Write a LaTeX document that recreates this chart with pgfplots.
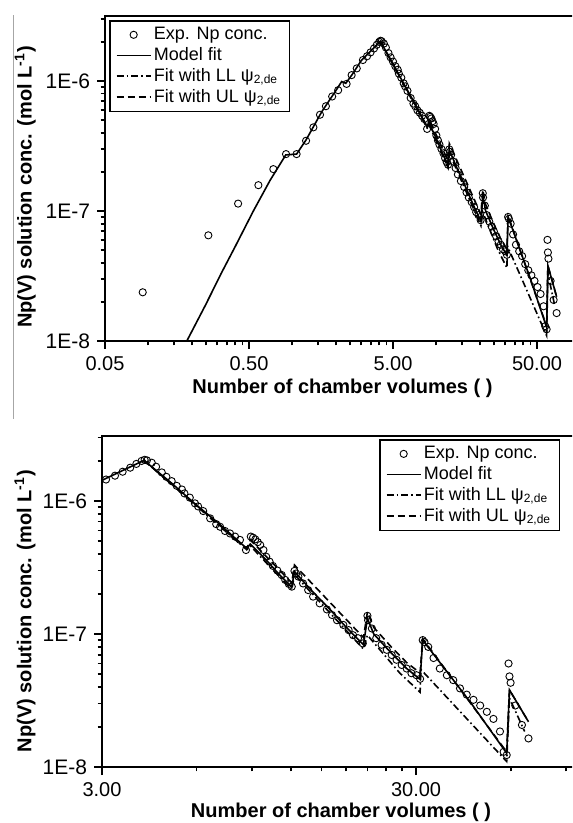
\documentclass[border=0pt]{standalone}
\usepackage{fontspec}
\setmainfont{Liberation Sans}
\usepackage{pgfplots}
\usepackage{pgfplotstable}
\pgfplotsset{compat=1.18}

% experimental Np(V) concentrations
\pgfplotstableread{
x y
0.0914 2.37e-8
0.261 6.5e-8
0.42 1.14e-7
0.581 1.58e-7
0.738 2.1e-7
0.904 2.74e-7
1.07 2.74e-7
1.245 3.47e-7
1.40 4.4e-7
1.556 5.5e-7
1.71 6.4e-7
1.89 7.6e-7
2.08 8.5e-7
2.38 9.5e-7
2.58 1.11e-6
2.80 1.25e-6
3.09 1.45e-6
3.30 1.55e-6
3.49 1.66e-6
3.69 1.78e-6
3.86 1.90e-6
4.01 2.00e-6
4.10 2.04e-6
4.17 2.02e-6
4.32 1.94e-6
4.46 1.81e-6
4.65 1.64e-6
4.81 1.52e-6
5.00 1.41e-6
5.19 1.30e-6
5.39 1.22e-6
5.49 1.14e-6
5.71 1.06e-6
5.93 9.6e-7
6.07 9.1e-7
6.30 8.4e-7
6.63 7.4e-7
6.93 6.7e-7
7.13 6.4e-7
7.39 5.95e-7
7.67 5.7e-7
7.96 5.4e-7
8.25 5.1e-7
8.62 4.28e-7
8.93 5.4e-7
9.08 5.3e-7
9.23 5.15e-7
9.40 4.9e-7
9.57 4.67e-7
9.80 4.28e-7
10.0 3.81e-7
10.25 3.5e-7
10.5 3.25e-7
10.85 3.0e-7
11.2 2.78e-7
11.5 2.55e-7
11.8 2.38e-7
12.06 2.27e-7
12.3 2.98e-7
12.45 2.85e-7
12.66 2.7e-7
13.1 2.4e-7
13.6 2.14e-7
14.1 1.91e-7
14.8 1.70e-7
15.6 1.53e-7
16.2 1.39e-7
16.8 1.27e-7
17.6 1.17e-7
18.3 1.07e-7
18.9 9.8e-8
19.6 9.3e-8
20.3 8.5e-8
21.0 1.37e-7
21.1 1.27e-7
21.7 1.10e-7
22.4 9.3e-8
23.3 8.3e-8
24.2 7.6e-8
25.1 6.95e-8
26.0 6.4e-8
27.0 5.85e-8
28.0 5.5e-8
29.0 5.07e-8
30.1 4.9e-8
30.9 4.6e-8
31.5 9.0e-8
31.9 8.7e-8
32.8 8.0e-8
34.1 6.6e-8
35.7 5.5e-8
37.6 4.9e-8
39.4 4.5e-8
41.4 3.9e-8
43.5 3.5e-8
45.7 3.2e-8
48.0 2.9e-8
50.4 2.6e-8
52.9 2.3e-8
55.5 1.85e-8
57.0 1.3e-8
58.3 1.23e-8
59.1 6.0e-8
59.5 4.8e-8
60.0 4.3e-8
62.1 2.9e-8
65.2 2.07e-8
68.4 1.64e-8
}\expdata

% model fit
\pgfplotstableread{
x y
0.185 1.0e-8
0.25 1.9e-8
0.32 3.3e-8
0.4 5.3e-8
0.536 1.0e-7
0.7 1.72e-7
0.9 2.7e-7
1.07 2.74e-7
1.25 3.55e-7
1.6 5.8e-7
2.0 8.4e-7
2.2 9.9e-7
2.35 9.6e-7
2.6 1.12e-6
3.0 1.43e-6
3.5 1.7e-6
4.08 2.02e-6
5.0 1.36e-6
6.0 9.3e-7
7.0 6.9e-7
8.0 5.2e-7
8.67 4.4e-7
8.9 4.75e-7
10.0 3.6e-7
11.0 2.8e-7
12.06 2.25e-7
12.3 2.95e-7
14.0 2.1e-7
16.0 1.52e-7
18.0 1.12e-7
20.4 8.3e-8
21.0 1.31e-7
22.0 1.0e-7
25.0 7.2e-8
28.0 5.5e-8
30.9 4.56e-8
31.5 9.0e-8
45.0 3.0e-8
58.3 1.27e-8
59.5 3.8e-8
68.4 2.19e-8
}\modeldata

% fit with lower limit
\pgfplotstableread{
x y
4.08 2.02e-6
8.67 4.3e-7
8.9 4.6e-7
12.06 2.15e-7
12.3 2.8e-7
20.4 7.7e-8
21.0 9.8e-8
26.6 5.1e-8
30.9 3.65e-8
31.1 5.4e-8
58.3 1.1e-8
59.5 3.3e-8
66.5 1.85e-8
}\lldata

% fit with upper limit
\pgfplotstableread{
x y
4.08 2.02e-6
8.67 4.4e-7
8.9 5.1e-7
12.06 2.42e-7
12.3 3.3e-7
20.4 9.4e-8
21.0 1.46e-7
22.0 1.12e-7
25.0 8.0e-8
28.0 6.1e-8
30.9 5.1e-8
31.5 9.2e-8
58.3 1.3e-8
59.5 3.8e-8
68.4 2.19e-8
}\uldata

\pgfplotsset{
  npaxis/.style={
    scale only axis, anchor=south west,
    ymin=1e-8,
    ytick={1e-8,1e-7,1e-6}, yticklabels={1E-8,1E-7,1E-6},
    minor ytick={2e-8,3e-8,4e-8,5e-8,6e-8,7e-8,8e-8,9e-8,2e-7,3e-7,4e-7,5e-7,6e-7,7e-7,8e-7,9e-7,2e-6,3e-6},
    tick align=outside, xtick pos=left, ytick pos=left,
    major tick length=4pt, minor tick length=2.2pt,
    every tick/.style={black, line width=0.9pt},
    axis line style={line width=1pt},
    xticklabel style={font=\fontsize{10}{12}\selectfont},
    yticklabel style={font=\fontsize{10.5}{12}\selectfont},
    label style={font=\bfseries\fontsize{10}{12}\selectfont},
    xlabel={Number of chamber volumes ( )},
    ylabel={Np(V) solution conc. (mol L\textsuperscript{-1})},
    legend cell align=left,
    legend style={font=\fontsize{9}{10}\selectfont, draw=black, line width=0.8pt,
      anchor=north west, row sep=0pt, nodes={inner sep=1.2pt}},
    /pgf/number format/assume math mode=true,
  },
  expstyle/.style={only marks, mark=o, mark size=1.8pt, mark options={line width=0.45pt, black}},
  modelstyle/.style={black, line width=0.8pt, no marks},
  llstyle/.style={black, line width=0.8pt, no marks, dash pattern=on 3.5pt off 1.5pt on 0.8pt off 1.5pt},
  ulstyle/.style={black, line width=0.8pt, no marks, dash pattern=on 3.5pt off 2pt},
}

\begin{document}
\begin{tikzpicture}
\useasboundingbox (0,0) rectangle (286pt,411.5pt);
\clip (0,0) rectangle (286pt,411.5pt);
\draw[gray!70, line width=0.5pt] (6.5pt,202pt) -- (6.5pt,404pt);

% upper panel: full range
\begin{loglogaxis}[npaxis,
  at={(52.5pt,241pt)}, width=237.5pt, height=162.5pt,
  xmin=0.05, xmax=99.4, ymax=3.162e-6,
  xtick={0.05,0.5,5,50}, xticklabels={0.05,0.50,5.00,50.00},
  minor xtick={0.1,0.15,0.2,0.25,0.3,0.35,0.4,0.45,1,1.5,2,2.5,3,3.5,4,4.5,10,15,20,25,30,35,40,45},
  xlabel style={at={(axis description cs:0.5,-0.145)}, anchor=center},
  ylabel style={at={(axis description cs:-0.168,0.474)}, anchor=center},
  legend style={at={(axis description cs:0.0084,0.988)}},
]
\addplot[expstyle] table {\expdata};
\addlegendentry{Exp. Np conc.}
\addplot[modelstyle] table {\modeldata};
\addlegendentry{Model fit}
\addplot[llstyle] table {\lldata};
\addlegendentry{Fit with LL ψ\textsubscript{2,de}}
\addplot[ulstyle] table {\uldata};
\addlegendentry{Fit with UL ψ\textsubscript{2,de}}
\end{loglogaxis}

% lower panel: from 3 chamber volumes
\begin{loglogaxis}[npaxis,
  at={(51pt,28pt)}, width=239pt, height=165.5pt,
  xmin=3, xmax=99.8, ymax=3.08e-6,
  xtick={3,30}, xticklabels={3.00,30.00},
  minor xtick={6,9,12,15,18,21,24,27,60,90},
  xlabel style={at={(axis description cs:0.5,-0.136)}, anchor=center},
  ylabel style={at={(axis description cs:-0.161,0.471)}, anchor=center},
  legend style={at={(axis description cs:0.5795,0.991)}},
]
\addplot[expstyle] table {\expdata};
\addlegendentry{Exp. Np conc.}
\addplot[modelstyle] table {\modeldata};
\addlegendentry{Model fit}
\addplot[llstyle] table {\lldata};
\addlegendentry{Fit with LL ψ\textsubscript{2,de}}
\addplot[ulstyle] table {\uldata};
\addlegendentry{Fit with UL ψ\textsubscript{2,de}\hspace{10pt}}
\end{loglogaxis}
\end{tikzpicture}
\end{document}
